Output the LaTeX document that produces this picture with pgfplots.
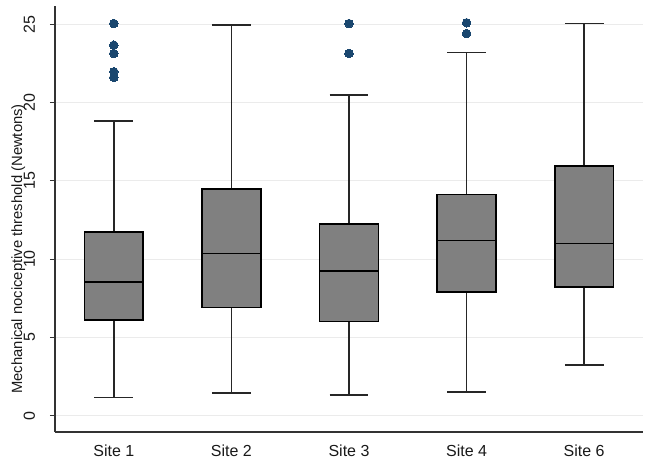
\documentclass[border=0pt]{standalone}
\usepackage{fontspec}
\setmainfont{Liberation Sans}
\usepackage{pgfplots}
\pgfplotsset{compat=1.18}
\usepgfplotslibrary{statistics}
\usetikzlibrary{calc}
\definecolor{boxgray}{HTML}{808080}
\definecolor{stnavy}{HTML}{1A476F}
\definecolor{gridgray}{HTML}{EBEBEB}
\definecolor{axisgray}{HTML}{333333}

\pgfplotsset{
  sitebox/.style={
    solid, draw=black, line width=1.7pt,
    mark=*, mark size=4.3pt,
    mark options={draw=stnavy, fill=stnavy, line width=0pt},
    boxplot/box extend=0.5,
    boxplot/whisker extend=0.33,
    boxplot/every box/.style={fill=boxgray, draw=black, line width=1.7pt},
    boxplot/every whisker/.style={draw=black!85, line width=1.7pt},
    boxplot/every median/.style={draw=black, line width=1.7pt},
  },
}

\begin{document}
\begin{tikzpicture}
\begin{axis}[
  name=ax,
  scale only axis,
  width=588pt, height=426pt,
  xmin=0.5, xmax=5.5, ymin=-1.04, ymax=26.16,
  axis x line*=bottom, axis y line*=left,
  axis line style={draw=axisgray, line width=1.1pt, -},
  xtick={1,2,3,4,5},
  xticklabels={Site 1,Site 2,Site 3,Site 4,Site 6},
  ytick={0,5,10,15,20,25},
  ymajorgrids,
  grid style={draw=gridgray, line width=1.1pt},
  x tick style={draw=none},
  y tick style={draw=axisgray, line width=1.1pt},
  tick align=outside,
  major tick length=5pt,
  /pgf/number format/assume math mode=true,
  tick label style={font=\fontsize{16}{19}\selectfont, text=black!90},
  xticklabel style={anchor=base, yshift=-19.7pt},
  yticklabel style={xshift=-15pt, rotate=90, anchor=base},
  ylabel={Mechanical nociceptive threshold (Newtons)},
  ylabel style={font=\fontsize{14.8}{18}\selectfont, text=black!90,
    at={(axis description cs:-0.0561,0.43)}, anchor=base},
  boxplot/draw direction=y,
  clip=false,
]
% Site 1
\addplot[sitebox, boxplot prepared={lower whisker=1.17, lower quartile=6.09, median=8.53,
  upper quartile=11.74, upper whisker=18.83, draw position=1}]
  table[row sep=\\, y index=0] {25.04\\ 23.66\\ 23.13\\ 21.96\\ 21.60\\};
% Site 2
\addplot[sitebox, boxplot prepared={lower whisker=1.43, lower quartile=6.91, median=10.36,
  upper quartile=14.47, upper whisker=24.96, draw position=2}]
  coordinates {};
% Site 3
\addplot[sitebox, boxplot prepared={lower whisker=1.32, lower quartile=6.02, median=9.26,
  upper quartile=12.26, upper whisker=20.47, draw position=3}]
  table[row sep=\\, y index=0] {25.04\\ 23.13\\};
% Site 4
\addplot[sitebox, boxplot prepared={lower whisker=1.53, lower quartile=7.89, median=11.19,
  upper quartile=14.13, upper whisker=23.19, draw position=4}]
  table[row sep=\\, y index=0] {25.09\\ 24.40\\};
% Site 6
\addplot[sitebox, boxplot prepared={lower whisker=3.23, lower quartile=8.23, median=11.00,
  upper quartile=15.94, upper whisker=25.04, draw position=5}]
  coordinates {};
\end{axis}
\pgfresetboundingbox
\path[use as bounding box] ($(ax.south west)+(-55pt,-32pt)$) rectangle ($(ax.north east)+(10pt,6pt)$);
\end{tikzpicture}
\end{document}
